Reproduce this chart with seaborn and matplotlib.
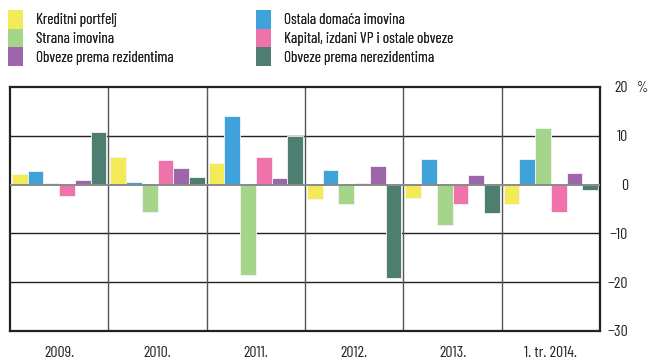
import matplotlib
matplotlib.use("Agg")
import matplotlib.pyplot as plt
import seaborn as sns
import pandas as pd
from matplotlib.patches import Patch

# Yearly contributions to change, in percent
periods = ["2009.", "2010.", "2011.", "2012.", "2013.", "1. tr. 2014."]
series_names = [
    "Kreditni portfelj",
    "Ostala domaća imovina",
    "Strana imovina",
    "Kapital, izdani VP i ostale obveze",
    "Obveze prema rezidentima",
    "Obveze prema nerezidentima",
]
kreditni_portfelj = [2.2, 5.7, 4.5, -3.0, -2.7, -3.9]
ostala_domaca_imovina = [2.7, 0.6, 14.0, 2.9, 5.3, 5.3]
strana_imovina = [0.3, -5.7, -18.5, -3.9, -8.2, 11.7]
kapital_vp_obveze = [-2.3, 5.1, 5.7, 0.3, -3.9, -5.6]
obveze_rezidenti = [0.9, 3.3, 1.4, 3.8, 1.9, 2.3]
obveze_nerezidenti = [10.7, 1.6, 10.0, -19.2, -5.9, -1.2]
y_ticks = [20, 10, 0, -10, -20, -30]

colors = ["#F2EA56", "#3FA2DB", "#A5D58A", "#EF73AA", "#9D66AB", "#4E7E6F"]

values = [kreditni_portfelj, ostala_domaca_imovina, strana_imovina,
          kapital_vp_obveze, obveze_rezidenti, obveze_nerezidenti]
rows = []
for name, vals in zip(series_names, values):
    for p, v in zip(periods, vals):
        rows.append({"period": p, "series": name, "value": v})
df = pd.DataFrame(rows)

sns.set_theme(style="white")
plt.rcParams["font.family"] = ["Barlow Condensed", "DejaVu Sans"]
ink = "#222222"

fig = plt.figure(figsize=(6.49, 3.63), dpi=100)
ax = fig.add_axes([10 / 649, 1 - 331 / 363, 590 / 649, 244 / 363])

sns.barplot(data=df, x="period", y="value", hue="series", order=periods,
            hue_order=series_names, palette=colors, saturation=1, width=0.96,
            edgecolor="#f4f4f4", linewidth=0.6, ax=ax, legend=False, zorder=2)

ax.set_ylim(-30, 20)
ax.set_xlim(-0.5, len(periods) - 0.5)

# horizontal grid
for y in [10, -10, -20]:
    ax.axhline(y, color=ink, lw=1.0, zorder=1)
ax.axhline(0, color="#8a8a8a", lw=1.4, zorder=3)
# group separators
for i in range(len(periods) - 1):
    ax.axvline(i + 0.5, color="#555555", lw=1.0, zorder=1)

for s in ax.spines.values():
    s.set_color(ink)
    s.set_linewidth(1.6)

ax.yaxis.tick_right()
ax.set_yticks(y_ticks)
ax.set_yticklabels([f"{t}".replace("-", "\u2212") for t in y_ticks])
ax.tick_params(axis="y", length=0, pad=20, labelsize=11.5, colors=ink)
ax.tick_params(axis="x", length=0, pad=11, labelsize=11.5, colors=ink)
for lbl in ax.get_yticklabels():
    lbl.set_horizontalalignment("right")
ax.set_xlabel("")
ax.set_ylabel("")
fig.text(648 / 649, 1 - 88 / 363, "%", ha="right", va="center",
         fontsize=10.5, color=ink)

# legend: two columns of three entries
for col, idx in enumerate([[0, 2, 4], [1, 3, 5]]):
    handles = [Patch(facecolor=colors[i], edgecolor="none", label=series_names[i])
               for i in idx]
    x0 = [8, 256][col]
    leg = fig.legend(handles=handles, loc="upper left",
                     bbox_to_anchor=(x0 / 649, 1 - 10 / 363),
                     ncol=1, frameon=False, fontsize=11, handlelength=1.0,
                     handleheight=1.5, handletextpad=0.8,
                     labelspacing=0.0, borderaxespad=0.0, borderpad=0.0)
    for t in leg.get_texts():
        t.set_color(ink)
    fig.add_artist(leg)

fig.savefig("out.png", dpi=100)
